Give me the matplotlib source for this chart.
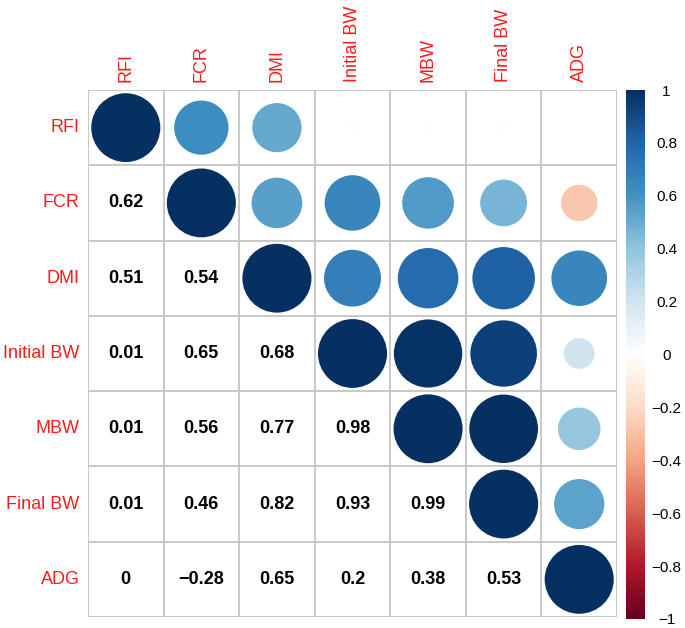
import numpy as np
import matplotlib
matplotlib.use("Agg")
import matplotlib.pyplot as plt
from matplotlib.patches import Circle
from matplotlib.colors import LinearSegmentedColormap, Normalize
from matplotlib.cm import ScalarMappable

plt.rcParams['font.family'] = ['Liberation Sans', 'DejaVu Sans']

labels = ["RFI", "FCR", "DMI", "Initial BW", "MBW", "Final BW", "ADG"]
# lower-triangle correlations (row i, columns 0..i-1)
row_FCR = [0.62]
row_DMI = [0.51, 0.54]
row_InitialBW = [0.01, 0.65, 0.68]
row_MBW = [0.01, 0.56, 0.77, 0.98]
row_FinalBW = [0.01, 0.46, 0.82, 0.93, 0.99]
row_ADG = [0.0, -0.28, 0.65, 0.2, 0.38, 0.53]
lower_rows = [[], row_FCR, row_DMI, row_InitialBW, row_MBW, row_FinalBW, row_ADG]
cbar_ticks = [-1, -0.8, -0.6, -0.4, -0.2, 0, 0.2, 0.4, 0.6, 0.8, 1]

n = len(labels)
corr = np.eye(n)
for i, row in enumerate(lower_rows):
    for j, v in enumerate(row):
        corr[i, j] = v
        corr[j, i] = v

cmap = LinearSegmentedColormap.from_list(
    "corrRdBu",
    ["#67001F", "#B2182B", "#D6604D", "#F4A582", "#FDDBC7", "#FFFFFF",
     "#D1E5F0", "#92C5DE", "#4393C3", "#2166AC", "#053061"], N=200)
norm = Normalize(-1, 1)

W, H = 685, 628
fig = plt.figure(figsize=(W / 100, H / 100), dpi=100)
ax = fig.add_axes([88 / W, 1 - 617 / H, 529 / W, 527 / H])
ax.set_xlim(0, n)
ax.set_ylim(n, 0)
ax.set_axis_off()

grid_col = "#C4C4C4"
for k in range(n + 1):
    ax.plot([k, k], [0, n], color=grid_col, lw=1.3, zorder=1, solid_capstyle='projecting')
    ax.plot([0, n], [k, k], color=grid_col, lw=1.3, zorder=1, solid_capstyle='projecting')

for i in range(n):
    for j in range(n):
        v = corr[i, j]
        if j >= i:
            r = 0.457 * np.sqrt(abs(v))
            ax.add_patch(Circle((j + 0.5, i + 0.5), r, facecolor=cmap(norm(v)),
                                edgecolor='none', zorder=2))
        else:
            txt = f"{v:g}".replace("-", "\u2212")
            ax.text(j + 0.5, i + 0.5, txt, ha='center', va='center',
                    fontsize=13, fontweight='bold', color='black', zorder=3)

for i, lab in enumerate(labels):
    ax.text(-0.11, i + 0.5, lab, ha='right', va='center', fontsize=13,
            color='#FF1A1A', clip_on=False)
    ax.text(i + 0.5, -0.11, lab, ha='center', va='bottom', rotation=90,
            fontsize=13, color='#FF1A1A', clip_on=False)

cax = fig.add_axes([626 / W, 1 - 619 / H, 19 / W, 529 / H])
sm = ScalarMappable(norm=norm, cmap=cmap)
cb = fig.colorbar(sm, cax=cax, ticks=cbar_ticks)
cb.outline.set_visible(False)
cb.ax.set_yticks(cbar_ticks)
cb.ax.set_yticklabels([f"{t:g}".replace("-", "\u2212") for t in cbar_ticks])
cb.ax.set_yticks(cbar_ticks[1:-1], minor=True)
cb.ax.tick_params(which='major', labelsize=11, length=0, pad=15.5)
cb.ax.tick_params(which='minor', length=2.5, width=0.8, color='#333333')
for lab in cb.ax.get_yticklabels():
    lab.set_horizontalalignment('center')

fig.savefig("out.png", dpi=100)
